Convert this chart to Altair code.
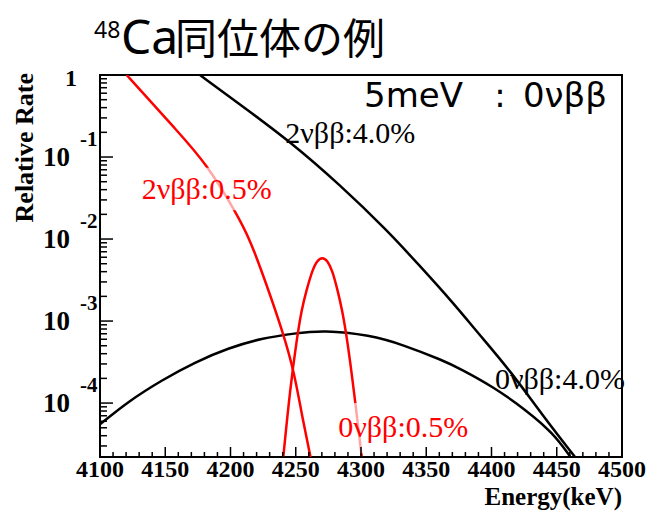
import altair as alt
import pandas as pd

# ---------------- data ----------------
# 2vbb, 4.0 % resolution (black)
E_2NU_40 = [4176.6, 4207.3, 4245.6, 4283.9, 4319.7, 4345.2, 4370.7, 4389.9, 4414.2, 4439.7, 4464.0]
R_2NU_40 = [1.0, 0.437, 0.155, 0.0457, 0.0129, 0.00468, 0.00166, 7.08e-4, 2.5e-4, 6.9e-5, 2.2e-5]

# 2vbb, 0.5 % resolution (red)
E_2NU_05 = [4120.4, 4135.8, 4156.2, 4181.7, 4204.7, 4215.0, 4226.4, 4240.5, 4249.0, 4254.5, 4261.3]
R_2NU_05 = [1.0, 0.537, 0.234, 0.0832, 0.0204, 0.00977, 0.00316, 7.1e-4, 2.3e-4, 7.4e-5, 2.2e-5]

# 0vbb, 4.0 % resolution (black)
E_0NU_40 = [4100.0, 4121.7, 4147.3, 4172.8, 4198.3, 4223.9, 4249.4, 4271.0, 4306.9, 4332.4,
            4363.0, 4375.9, 4401.4, 4427.0, 4447.4, 4460.2]
R_0NU_40 = [5.5e-5, 1.05e-4, 1.9e-4, 3.16e-4, 4.68e-4, 6.17e-4, 7.08e-4, 7.76e-4, 6.76e-4, 5.13e-4,
            3.3e-4, 2.63e-4, 1.58e-4, 8.1e-5, 4.27e-5, 2.24e-5]

# 0vbb, 0.5 % resolution (red)
E_0NU_05 = [4240.5, 4245.6, 4250.7, 4254.5, 4258.3, 4262.7, 4266.4, 4270.3, 4274.2, 4278.0,
            4282.0, 4285.5, 4289.5, 4294.5, 4300.5]
R_0NU_05 = [2.24e-5, 1.45e-4, 5.89e-4, 1.38e-3, 2.40e-3, 4.17e-3, 5.50e-3, 6.03e-3, 5.50e-3, 4.17e-3,
            2.40e-3, 1.38e-3, 5.89e-4, 1.45e-4, 2.24e-5]

# curve labels
LABEL_TEXT = ["2νββ:4.0%", "2νββ:0.5%", "0νββ:4.0%", "0νββ:0.5%"]
LABEL_E = [4242.0, 4132.0, 4402.7, 4282.6]
LABEL_R = [0.150, 0.0308, 1.49e-4, 3.9e-5]
LABEL_COLOR = ["black", "red", "black", "red"]

# translucent boxes behind the red labels
BOX_E1 = [4123.0, 4276.0]
BOX_E2 = [4243.6, 4393.0]
BOX_R1 = [0.0741, 1.0e-4]
BOX_R2 = [0.0224, 2.45e-5]

# axis ticks / labels
X_MAJOR = [4100, 4150, 4200, 4250, 4300, 4350, 4400, 4450, 4500]
Y_DECADES = [1e-4, 1e-3, 1e-2, 1e-1]
Y_EXP = ["-4", "-3", "-2", "-1"]

# ---------------- layout ----------------
W, H = 522, 382
XMIN, XMAX = 4100, 4500
YMIN, YMAX = 2.2e-5, 1.0
SERIF = "Liberation Serif"

xs = alt.Scale(domain=[XMIN, XMAX], nice=False, zero=False)
ys = alt.Scale(type="log", domain=[YMIN, YMAX], nice=False)


def X(field):
    return alt.X(field, type="quantitative", scale=xs, axis=None)


def Y(field):
    return alt.Y(field, type="quantitative", scale=ys, axis=None)


layers = []

series = [
    (E_2NU_40, R_2NU_40, "black"),
    (E_0NU_40, R_0NU_40, "black"),
    (E_2NU_05, R_2NU_05, "red"),
    (E_0NU_05, R_0NU_05, "red"),
]
for es, rs, col in series:
    df = pd.DataFrame({"E": es, "R": rs})
    layers.append(
        alt.Chart(df).mark_line(color=col, strokeWidth=2.5, interpolate="basis", clip=True)
        .encode(x=X("E"), y=Y("R"))
    )

# label boxes
box_df = pd.DataFrame({"E": BOX_E1, "E2": BOX_E2, "R": BOX_R1, "R2": BOX_R2})
layers.append(
    alt.Chart(box_df).mark_rect(color="white", opacity=0.65)
    .encode(x=X("E"), x2="E2:Q", y=Y("R"), y2="R2:Q")
)

# curve labels
for t, e, r, c in zip(LABEL_TEXT, LABEL_E, LABEL_R, LABEL_COLOR):
    df = pd.DataFrame({"E": [e], "R": [r], "t": [t]})
    layers.append(
        alt.Chart(df).mark_text(font=SERIF, fontSize=30, color=c, align="left", baseline="alphabetic")
        .encode(x=X("E"), y=Y("R"), text="t:N")
    )

# ticks (inside the frame)
x_minor = [v for v in range(XMIN + 10, XMAX, 10) if v % 50 != 0]
y_minor = [k * d for d in [1e-5] + Y_DECADES for k in range(2, 10) if YMIN <= k * d <= YMAX]

layers.append(alt.Chart(pd.DataFrame({"E": X_MAJOR})).mark_rule(color="black", strokeWidth=1.5)
              .encode(x=X("E"), y=alt.value(H), y2=alt.value(H - 10)))
layers.append(alt.Chart(pd.DataFrame({"E": x_minor})).mark_rule(color="black", strokeWidth=1.5)
              .encode(x=X("E"), y=alt.value(H), y2=alt.value(H - 5)))
layers.append(alt.Chart(pd.DataFrame({"R": Y_DECADES})).mark_rule(color="black", strokeWidth=1.5)
              .encode(y=Y("R"), x=alt.value(0), x2=alt.value(13)))
layers.append(alt.Chart(pd.DataFrame({"R": y_minor})).mark_rule(color="black", strokeWidth=1.5)
              .encode(y=Y("R"), x=alt.value(0), x2=alt.value(7)))

# x tick labels
layers.append(
    alt.Chart(pd.DataFrame({"E": X_MAJOR, "t": [str(v) for v in X_MAJOR]}))
    .mark_text(font=SERIF, fontWeight="bold", fontSize=24, align="center", baseline="alphabetic")
    .encode(x=X("E"), y=alt.value(402), text="t:N")
)
# y tick labels: "10" with exponent, and "1" on top
layers.append(
    alt.Chart(pd.DataFrame({"R": Y_DECADES, "t": ["10"] * len(Y_DECADES)}))
    .mark_text(font=SERIF, fontWeight="bold", fontSize=27, align="right", baseline="alphabetic", dy=9)
    .encode(y=Y("R"), x=alt.value(-30), text="t:N")
)
layers.append(
    alt.Chart(pd.DataFrame({"R": Y_DECADES, "t": Y_EXP}))
    .mark_text(font=SERIF, fontWeight="bold", fontSize=21, align="left", baseline="alphabetic", dy=-11)
    .encode(y=Y("R"), x=alt.value(-20), text="t:N")
)
layers.append(
    alt.Chart(pd.DataFrame({"R": [1.0], "t": ["1"]}))
    .mark_text(font=SERIF, fontWeight="bold", fontSize=24, align="right", baseline="alphabetic", dy=11)
    .encode(y=Y("R"), x=alt.value(-23), text="t:N")
)


def ptext(txt, x, y, **kw):
    return (alt.Chart(pd.DataFrame({"t": [txt]})).mark_text(**kw)
            .encode(x=alt.value(x), y=alt.value(y), text="t:N"))


# axis titles
layers.append(ptext("Relative Rate", -75, -2, font=SERIF, fontWeight="bold", fontSize=26,
                    angle=270, align="right", baseline="middle"))
layers.append(ptext("Energy(keV)", 522, 430, font=SERIF, fontWeight="bold", fontSize=25,
                    align="right", baseline="alphabetic"))

# page title
layers.append(ptext("48", -6, -37.5, font="Noto Sans", fontSize=23, align="left", baseline="alphabetic"))
layers.append(ptext("Ca", 21, -21, font="Noto Sans", fontSize=48, align="left", baseline="alphabetic"))
layers.append(ptext("同位体の例", 75, -21, font="Noto Sans CJK JP", fontSize=42, align="left",
                    baseline="alphabetic"))

# big annotation
layers.append(ptext("5meV", 313.5, 32, font="DejaVu Sans", fontSize=34, align="center", baseline="alphabetic"))
layers.append(ptext(":", 400, 32, font="DejaVu Sans", fontSize=34, align="center", baseline="alphabetic"))
layers.append(ptext("0νββ", 465, 32, font="DejaVu Sans", fontSize=34, align="center", baseline="alphabetic"))

chart = (
    alt.layer(*layers)
    .properties(
        width=W,
        height=H,
        padding={"left": 100, "top": 75, "right": 28, "bottom": 55},
        autosize=alt.AutoSizeParams(type="none"),
        background="white",
    )
    .configure_view(stroke="black", strokeWidth=2)
)

chart.save("out.html", embed_options={"renderer": "svg", "actions": False})
